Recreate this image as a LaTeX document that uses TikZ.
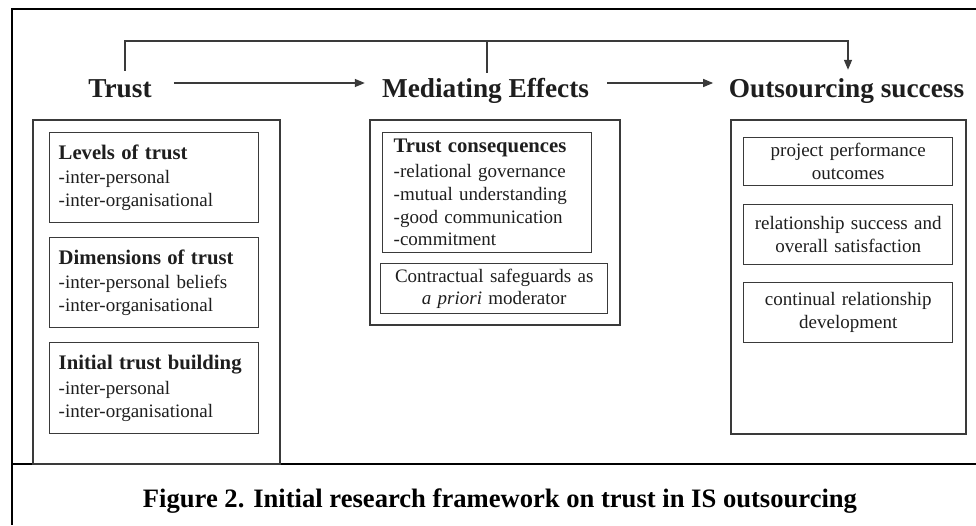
\documentclass[tikz,border=0pt]{standalone}
\usepackage{fontspec}
\setmainfont{Liberation Serif}
\usetikzlibrary{calc,arrows.meta}
\definecolor{ink}{HTML}{1E1E1E}
\definecolor{edge}{HTML}{3A3A3A}
\newcommand{\ttlfont}{\bfseries\fontsize{20.7}{22.7}\selectfont}
\begin{document}
\begin{tikzpicture}[x=1pt,y=-1pt,
  frame/.style={line width=2pt,draw=black},
  colbox/.style={draw=edge,line width=1.5pt,anchor=north west,inner sep=0pt},
  lbox/.style={draw=edge,line width=1.4pt,anchor=north west,inner xsep=9pt,inner ysep=0pt,
    align=left,text=ink,font=\fontsize{19}{22.7}\selectfont},
  cbox/.style={draw=edge,line width=1.4pt,anchor=north west,inner xsep=4pt,inner ysep=0pt,
    align=center,text=ink,font=\fontsize{19}{22.7}\selectfont},
  head/.style={font=\bfseries\fontsize{27.3}{30}\selectfont,text=ink,anchor=base,
    inner sep=0pt,text height=19pt,text depth=6pt},
  conn/.style={draw=edge,line width=1.4pt},
  arr/.style={conn,-{Triangle[length=10pt,width=8pt]}},
]
\useasboundingbox[fill=white] (0,0) rectangle (976,525);
% outer frame
\draw[frame] (976,9) -- (12,9) -- (12,525);
\draw[frame] (12,464) -- (976,464);

% headers
\node[head] (trust) at (120,97) {Trust};
\node[head] (med) at (485.5,97) {Mediating Effects};
\node[head] (outs) at (846.5,97) {Outsourcing success};

% main arrows
\draw[arr] ($(trust.east)+(22,-7.5)$) -- ($(med.west)+(-17,-7.5)$);
\draw[arr] ($(med.east)+(18,-7.5)$) -- ($(outs.west)+(-15.5,-7.5)$);

% feedback bracket
\coordinate (tl) at (125,41);
\coordinate (tm) at (487,41);
\coordinate (tr) at (848,41);
\draw[conn] ($(trust.north)+(5,-7)$) -- (tl) -- (tm);
\draw[arr] (tm) -- (tr) -- ($(outs.north -| tr)+(0,-8)$);
\draw[conn] (tm) -- ($(med.north -| tm)+(0,-5)$);

% columns
\node[colbox,minimum width=247pt,minimum height=344pt] (lcol) at (32,119) {};
\node[colbox,minimum width=250pt,minimum height=205pt] (mcol) at (369,119) {};
\node[colbox,minimum width=235pt,minimum height=314pt] (rcol) at (730,119) {};

% left column boxes
\node[lbox,text width=191pt,minimum width=209pt,minimum height=90pt] (lev) at (49,132)
  {{\ttlfont Levels of trust}\\[2pt]-inter-personal\\-inter-organisational};
\node[lbox,text width=191pt,minimum width=209pt,minimum height=90pt] (dim) at (49,237)
  {{\ttlfont Dimensions of trust}\\[2pt]-inter-personal beliefs\\-inter-organisational};
\node[lbox,text width=191pt,minimum width=209pt,minimum height=91pt] (ini) at (49,342)
  {{\ttlfont Initial trust building}\\[2pt]-inter-personal\\-inter-organisational};

% middle column boxes
\node[lbox,inner xsep=11pt,text width=187pt,minimum width=209pt,minimum height=120pt] (cons) at (382,132)
  {{\ttlfont Trust consequences}\\[2pt]-relational governance\\-mutual understanding\\-good communication\\-commitment};
\node[cbox,text width=219pt,minimum width=227pt,minimum height=50pt] (contr) at (380,263)
  {Contractual safeguards as\\\textit{a priori} moderator};

% right column boxes
\node[cbox,text width=201pt,minimum width=209pt,minimum height=48pt] (proj) at (743,137)
  {project performance\\outcomes};
\node[cbox,text width=201pt,minimum width=209pt,minimum height=60pt] (rel) at (743,204)
  {relationship success and\\overall satisfaction};
\node[cbox,text width=201pt,minimum width=209pt,minimum height=60pt] (cont) at (743,282)
  {continual relationship\\development};

% caption
\node[font=\bfseries\fontsize{26.6}{30}\selectfont,anchor=base,inner sep=0pt] (cap) at (500,507)
  {Figure 2. Initial research framework on trust in IS outsourcing};
\end{tikzpicture}
\end{document}
